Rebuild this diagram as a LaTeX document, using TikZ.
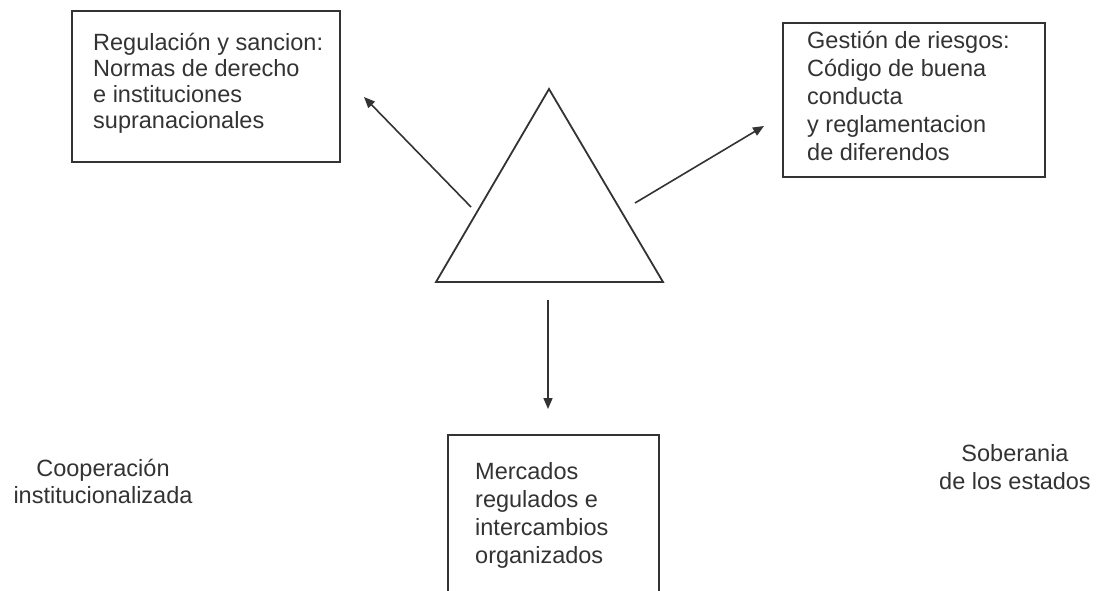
\documentclass[tikz,border=0pt]{standalone}
\usepackage{fontspec}
\setmainfont{Liberation Sans}
\usetikzlibrary{arrows.meta}
\definecolor{ink}{gray}{0.2}
\tikzset{
  boxshape/.style={draw=ink, line width=1.8pt, fill=none},
  txt/.style={inner sep=0pt, anchor=base west, text=ink, font=\fontsize{23.5}{28}\selectfont},
  txtc/.style={txt, anchor=base},
  arr/.style={draw=ink, line width=1.6pt, -{Triangle[length=11pt,width=9pt]}},
  tri/.style={draw=ink, line width=1.8pt, line join=miter}
}
\begin{document}
\begin{tikzpicture}[x=1pt,y=-1pt]
\clip (0,0) rectangle (1102,591);
\fill[white] (0,0) rectangle (1102,591);
% boxes
\draw[boxshape] (72,11) rectangle (340,162);
\draw[boxshape] (783,23) rectangle (1045,177);
\draw[boxshape] (448,435) rectangle (659,620);
% box texts
\node[txt, font=\fontsize{23.5}{26}\selectfont] (tltext) at (93,51)
  {\begin{tabular}[t]{@{}l@{}}Regulación y sancion:\\Normas de derecho\\e instituciones\\supranacionales\end{tabular}};
\node[txt] (trtext) at (807,49)
  {\begin{tabular}[t]{@{}l@{}}Gestión de riesgos:\\Código de buena\\conducta\\y reglamentacion\\de diferendos\end{tabular}};
\node[txt] (btext) at (475,479)
  {\begin{tabular}[t]{@{}l@{}}Mercados\\regulados e\\intercambios\\organizados\end{tabular}};
% side labels
\node[txtc, font=\fontsize{23.5}{27}\selectfont] (coop) at (103,476)
  {\begin{tabular}[t]{@{}c@{}}Cooperación\\institucionalizada\end{tabular}};
\node[txtc] (sob) at (1015,461)
  {\begin{tabular}[t]{@{}c@{}}Soberania\\de los estados\end{tabular}};
% triangle
\coordinate (apex) at (549,89);
\coordinate (bl) at (436,282);
\coordinate (br) at (663,282);
\draw[tri] (apex) -- (bl) -- (br) -- cycle;
% arrows
\coordinate (la0) at (471,207);
\coordinate (la1) at (364,97);
\coordinate (ra0) at (635,203);
\coordinate (ra1) at (764,126);
\coordinate (da0) at (548,300);
\coordinate (da1) at (548,409);
\draw[arr] (la0) -- (la1);
\draw[arr] (ra0) -- (ra1);
\draw[arr] (da0) -- (da1);
\end{tikzpicture}
\end{document}
